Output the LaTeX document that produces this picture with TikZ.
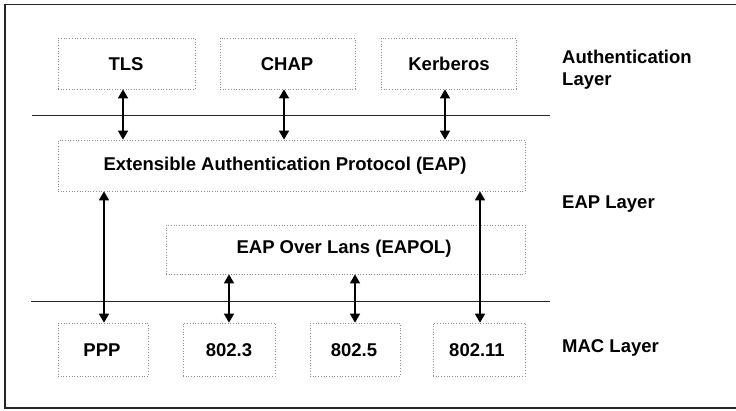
\documentclass[tikz,border=0pt]{standalone}
\usepackage{fontspec}
\setmainfont{Liberation Sans}
\usetikzlibrary{arrows.meta}
\begin{document}
\begin{tikzpicture}[x=1pt,y=-1pt,
  layerbox/.style={draw=black!45, dotted, line width=0.7pt, rectangle, inner sep=0pt},
  lbl/.style={font=\fontsize{18.5}{22}\selectfont\bfseries, inner sep=0pt},
  dbl/.style={line width=1.5pt, {Triangle[length=9pt,width=10pt]}-{Triangle[length=9pt,width=10pt]}},
  sep/.style={line width=0.9pt, black!85},
  frame/.style={line width=1.1pt, black!85}]
\useasboundingbox (0,0) rectangle (736,410);
% frame
\draw[frame] (736,4.5) -- (5,4.5) -- (5,408) -- (736,408);
% separator lines
\coordinate (s1l) at (32,115); \coordinate (s1r) at (550,115);
\coordinate (s2l) at (31,301); \coordinate (s2r) at (550,301);
\draw[sep] (s1l) -- (s1r);
\draw[sep] (s2l) -- (s2r);
% boxes
\node[layerbox, minimum width=137pt, minimum height=51pt] (tls) at (126.5,63.5) {};
\node[lbl] at (126,64) {TLS};
\node[layerbox, minimum width=135pt, minimum height=51pt] (chap) at (287.5,63.5) {};
\node[lbl] at (287,64) {CHAP};
\node[layerbox, minimum width=135pt, minimum height=51pt] (kerb) at (448.5,63.5) {};
\node[lbl] at (449,64) {Kerberos};
\node[layerbox, minimum width=467pt, minimum height=51pt] (eap) at (291.5,165.5) {};
\node[lbl] at (285,166) {Extensible Authentication Protocol (EAP)};
\node[layerbox, minimum width=359pt, minimum height=49pt] (eapol) at (345.5,249.5) {};
\node[lbl] at (344,249) {EAP Over Lans (EAPOL)};
\node[layerbox, minimum width=90pt, minimum height=53pt] (ppp) at (103,349.5) {};
\node[lbl] at (102,350) {PPP};
\node[layerbox, minimum width=92pt, minimum height=53pt] (e3) at (229,349.5) {};
\node[lbl] at (229,350) {802.3};
\node[layerbox, minimum width=90pt, minimum height=53pt] (e5) at (355,349.5) {};
\node[lbl] at (354,350) {802.5};
\node[layerbox, minimum width=92pt, minimum height=53pt] (e11) at (479,349.5) {};
\node[lbl] at (477,350) {802.11};
% layer labels
\node[lbl, anchor=west, align=left] (authl) at (562,70) {Authentication\\Layer};
\node[lbl, anchor=west] (eapl) at (562,204) {EAP Layer};
\node[lbl, anchor=west] (macl) at (562,348) {MAC Layer};
% arrows
\coordinate (x1) at (123,0);
\coordinate (x2) at (284,0);
\coordinate (x3) at (445,0);
\coordinate (x4) at (104,0);
\coordinate (x5) at (480,0);
\coordinate (x6) at (229,0);
\coordinate (x7) at (355,0);
\draw[dbl] (tls.south -| x1) -- (eap.north -| x1);
\draw[dbl] (chap.south -| x2) -- (eap.north -| x2);
\draw[dbl] (kerb.south -| x3) -- (eap.north -| x3);
\draw[dbl] (eap.south -| x4) -- (ppp.north -| x4);
\draw[dbl] (eap.south -| x5) -- (e11.north -| x5);
\draw[dbl] (eapol.south -| x6) -- (e3.north -| x6);
\draw[dbl] (eapol.south -| x7) -- (e5.north -| x7);
\end{tikzpicture}
\end{document}
